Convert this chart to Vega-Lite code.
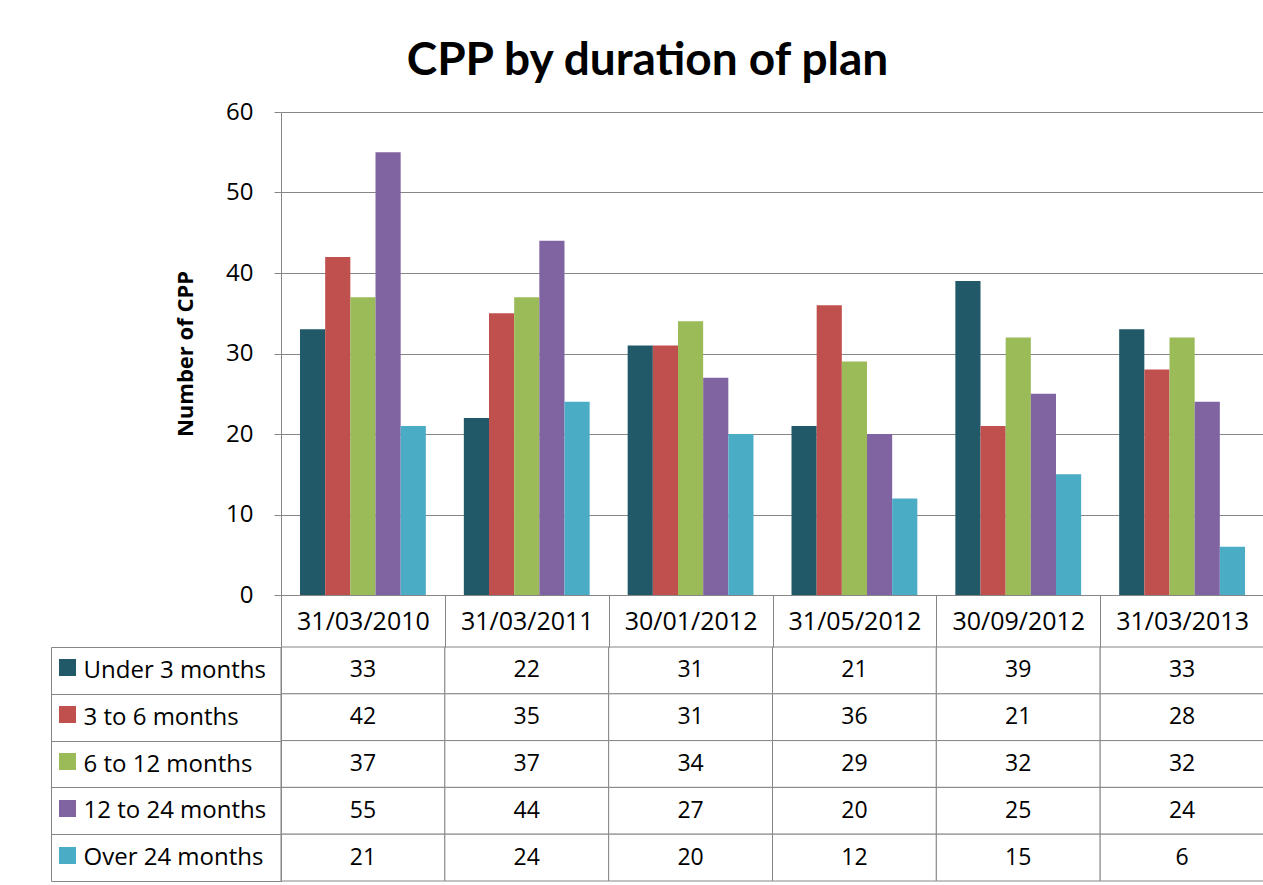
{
  "$schema": "https://vega.github.io/schema/vega-lite/v6.json",
  "background": "white",
  "padding": {"left": 50, "top": 38, "right": 0, "bottom": 0},
  "title": {"text": "CPP by duration of plan", "font": "Lato", "fontSize": 46, "fontWeight": "bold", "color": "#000000", "anchor": "middle", "frame": "group", "offset": 15, "dx": -125},
  "config": {"font": "Open Sans", "view": {"stroke": null}},
  "datasets": {
    "cpp": [
      {"date": "31/03/2010", "series": "Under 3 months", "count": 33},
      {"date": "31/03/2011", "series": "Under 3 months", "count": 22},
      {"date": "30/01/2012", "series": "Under 3 months", "count": 31},
      {"date": "31/05/2012", "series": "Under 3 months", "count": 21},
      {"date": "30/09/2012", "series": "Under 3 months", "count": 39},
      {"date": "31/03/2013", "series": "Under 3 months", "count": 33},
      {"date": "31/03/2010", "series": "3 to 6 months", "count": 42},
      {"date": "31/03/2011", "series": "3 to 6 months", "count": 35},
      {"date": "30/01/2012", "series": "3 to 6 months", "count": 31},
      {"date": "31/05/2012", "series": "3 to 6 months", "count": 36},
      {"date": "30/09/2012", "series": "3 to 6 months", "count": 21},
      {"date": "31/03/2013", "series": "3 to 6 months", "count": 28},
      {"date": "31/03/2010", "series": "6 to 12 months", "count": 37},
      {"date": "31/03/2011", "series": "6 to 12 months", "count": 37},
      {"date": "30/01/2012", "series": "6 to 12 months", "count": 34},
      {"date": "31/05/2012", "series": "6 to 12 months", "count": 29},
      {"date": "30/09/2012", "series": "6 to 12 months", "count": 32},
      {"date": "31/03/2013", "series": "6 to 12 months", "count": 32},
      {"date": "31/03/2010", "series": "12 to 24 months", "count": 55},
      {"date": "31/03/2011", "series": "12 to 24 months", "count": 44},
      {"date": "30/01/2012", "series": "12 to 24 months", "count": 27},
      {"date": "31/05/2012", "series": "12 to 24 months", "count": 20},
      {"date": "30/09/2012", "series": "12 to 24 months", "count": 25},
      {"date": "31/03/2013", "series": "12 to 24 months", "count": 24},
      {"date": "31/03/2010", "series": "Over 24 months", "count": 21},
      {"date": "31/03/2011", "series": "Over 24 months", "count": 24},
      {"date": "30/01/2012", "series": "Over 24 months", "count": 20},
      {"date": "31/05/2012", "series": "Over 24 months", "count": 12},
      {"date": "30/09/2012", "series": "Over 24 months", "count": 15},
      {"date": "31/03/2013", "series": "Over 24 months", "count": 6}
    ]
  },
  "resolve": {"scale": {"x": "independent", "y": "independent"}},
  "spacing": 52,
  "bounds": "flush",
  "vconcat": [
    {
      "width": 983,
      "height": 483,
      "data": {"name": "cpp"},
      "mark": {"type": "bar"},
      "encoding": {
        "x": {
          "field": "date", "type": "nominal",
          "sort": ["31/03/2010", "31/03/2011", "30/01/2012", "31/05/2012", "30/09/2012", "31/03/2013"],
          "scale": {"paddingInner": 0.232, "paddingOuter": 0.116},
          "title": null,
          "axis": {"orient": "bottom", "domain": true, "domainColor": "#868686", "ticks": false, "labels": false, "grid": false}
        },
        "xOffset": {
          "field": "series", "type": "nominal",
          "sort": ["Under 3 months", "3 to 6 months", "6 to 12 months", "12 to 24 months", "Over 24 months"],
          "scale": {"paddingInner": 0, "paddingOuter": 0}
        },
        "y": {
          "field": "count", "type": "quantitative",
          "scale": {"domain": [0, 60]},
          "title": "Number of CPP",
          "axis": {"values": [0, 10, 20, 30, 40, 50, 60], "grid": true, "gridColor": "#868686", "domainColor": "#868686", "tickColor": "#868686", "tickSize": 7, "labelFontSize": 24, "labelColor": "#000000", "labelPadding": 21, "titleFontSize": 22, "titleFontWeight": "bold", "titleColor": "#000000", "titlePadding": 28}
        },
        "color": {
          "field": "series", "type": "nominal",
          "scale": {"domain": ["Under 3 months", "3 to 6 months", "6 to 12 months", "12 to 24 months", "Over 24 months"], "range": ["#215968", "#C0504D", "#9BBB59", "#8064A2", "#4BACC6"]},
          "legend": {"orient": "none", "legendX": -222, "legendY": 547, "symbolType": "square", "symbolSize": 289, "symbolStrokeWidth": 0, "labelExpr": "''", "rowPadding": 30, "title": null, "padding": 0}
        }
      }
    },
    {
      "width": 983,
      "height": 234,
      "data": {"name": "cpp"},
      "encoding": {
        "x": {
          "field": "date", "type": "nominal",
          "sort": ["31/03/2010", "31/03/2011", "30/01/2012", "31/05/2012", "30/09/2012", "31/03/2013"],
          "scale": {"paddingInner": 0, "paddingOuter": 0},
          "title": null,
          "axis": {"orient": "top", "domain": false, "ticks": true, "tickBand": "extent", "tickSize": 52, "tickColor": "#868686", "grid": false, "labelFontSize": 25, "labelColor": "#000000", "labelPadding": -26, "labelBaseline": "middle", "labelAngle": 0}
        }
      },
      "layer": [
        {
          "mark": {"type": "rect", "fill": "white", "stroke": "#868686", "strokeWidth": 1},
          "encoding": {
            "y": {
              "field": "series", "type": "nominal",
              "sort": ["Under 3 months", "3 to 6 months", "6 to 12 months", "12 to 24 months", "Over 24 months"],
              "scale": {"paddingInner": 0, "paddingOuter": 0},
              "title": null,
              "axis": {"orient": "left", "domain": true, "domainColor": "#868686", "ticks": true, "tickBand": "extent", "tickSize": 230, "tickColor": "#868686", "grid": false, "labelAlign": "left", "labelPadding": -32, "labelFontSize": 24, "labelColor": "#000000", "labelLimit": 0}
            }
          }
        },
        {
          "mark": {"type": "text", "fontSize": 23, "color": "#000000"},
          "encoding": {
            "y": {
              "field": "series", "type": "nominal",
              "sort": ["Under 3 months", "3 to 6 months", "6 to 12 months", "12 to 24 months", "Over 24 months"],
              "title": null,
              "axis": {"orient": "left", "offset": 230, "domain": true, "domainColor": "#868686", "ticks": false, "labels": false, "grid": false}
            },
            "text": {"field": "count", "type": "quantitative"}
          }
        }
      ],
      "resolve": {"axis": {"y": "independent"}}
    }
  ]
}
